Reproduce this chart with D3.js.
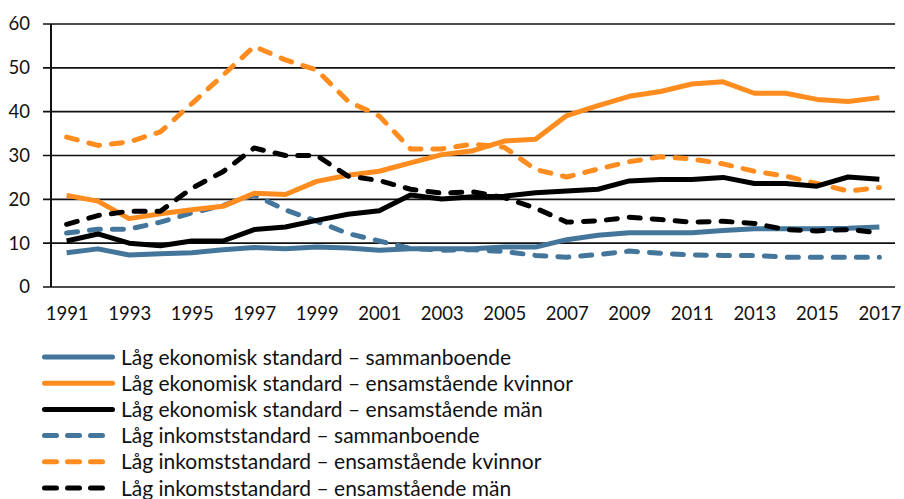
<!DOCTYPE html>
<html>
<head>
<meta charset="utf-8">
<script src="https://cdn.jsdelivr.net/npm/d3@7"></script>
<style>
  body { margin: 0; background: #fff; }
  svg { display: block; font-family: Lato, "Open Sans", sans-serif; }
</style>
</head>
<body>
<div id="chart"></div>
<script>
var years = d3.range(1991, 2018);
var tickYears = [1991, 1993, 1995, 1997, 1999, 2001, 2003, 2005, 2007, 2009, 2011, 2013, 2015, 2017];
var yTicks = [0, 10, 20, 30, 40, 50, 60];

// Låg ekonomisk standard
var ekSammanboende = [7.8, 8.7, 7.3, 7.6, 7.8, 8.5, 9.0, 8.7, 9.1, 8.9, 8.4, 8.7, 8.7, 8.7, 9.1, 9.1, 10.8, 11.8, 12.4, 12.4, 12.4, 12.9, 13.3, 13.3, 13.3, 13.4, 13.7];
var ekKvinnor = [20.9, 19.6, 15.6, 16.7, 17.6, 18.4, 21.4, 21.1, 24.1, 25.5, 26.4, 28.3, 30.2, 31.1, 33.3, 33.7, 39.1, 41.4, 43.5, 44.6, 46.3, 46.8, 44.2, 44.2, 42.8, 42.3, 43.2];
var ekMan = [10.5, 12.1, 10.0, 9.4, 10.5, 10.5, 13.1, 13.7, 15.2, 16.6, 17.4, 21.0, 20.1, 20.6, 20.7, 21.5, 21.9, 22.3, 24.2, 24.5, 24.5, 25.0, 23.6, 23.6, 23.0, 25.1, 24.6];
// Låg inkomststandard
var inkSammanboende = [12.3, 13.2, 13.2, 14.8, 16.9, 18.6, 21.0, 17.6, 15.0, 12.2, 10.5, 8.8, 8.4, 8.5, 8.1, 7.2, 6.8, 7.4, 8.2, 7.7, 7.3, 7.2, 7.2, 6.8, 6.8, 6.8, 6.8];
var inkKvinnor = [34.2, 32.3, 33.1, 35.4, 41.8, 48.3, 54.9, 51.8, 49.5, 42.4, 39.0, 31.5, 31.5, 32.6, 31.9, 26.8, 25.1, 26.9, 28.6, 29.7, 29.2, 28.1, 26.4, 25.3, 23.6, 21.9, 22.7];
var inkMan = [14.3, 16.3, 17.3, 17.3, 22.5, 26.3, 31.7, 30.0, 30.0, 25.3, 24.3, 22.3, 21.4, 21.7, 20.4, 18.0, 14.8, 15.1, 15.9, 15.4, 14.8, 15.0, 14.5, 13.1, 12.8, 13.1, 12.4];

var seriesNames = [
  "Låg ekonomisk standard – sammanboende",
  "Låg ekonomisk standard – ensamstående kvinnor",
  "Låg ekonomisk standard – ensamstående män",
  "Låg inkomststandard – sammanboende",
  "Låg inkomststandard – ensamstående kvinnor",
  "Låg inkomststandard – ensamstående män"
];
var seriesValues = [ekSammanboende, ekKvinnor, ekMan, inkSammanboende, inkKvinnor, inkMan];

var blue = "#44759a", orange = "#ff8c1f", black = "#000000";
var colors = [blue, orange, black, blue, orange, black];
var dashed = [false, false, false, true, true, true];

var margin = {top: 24, right: 9, bottom: 212, left: 51},
    width = 904 - margin.left - margin.right,
    height = 499 - margin.top - margin.bottom;

var x = d3.scalePoint()
    .domain(years)
    .range([0, width])
    .padding(0.5);
var y = d3.scaleLinear()
    .domain([0, 60])
    .range([height, 0]);

var svg = d3.select("#chart").append("svg")
    .attr("width", 904)
    .attr("height", 499);

var g = svg.append("g")
    .attr("transform", "translate(" + margin.left + "," + margin.top + ")");

// gridlines
g.selectAll(".grid")
    .data(yTicks)
  .enter().append("line")
    .attr("class", "grid")
    .attr("x1", -8)
    .attr("x2", width)
    .attr("y1", function(d) { return y(d); })
    .attr("y2", function(d) { return y(d); })
    .attr("stroke", "#111")
    .attr("stroke-width", 1.6);

// y axis
var yAxis = g.append("g")
    .call(d3.axisLeft(y).tickValues(yTicks).tickSize(0).tickPadding(21));
yAxis.select(".domain").remove();
yAxis.selectAll("text")
    .style("font-size", "18.5px")
    .style("font-family", "Lato, sans-serif")
    .attr("fill", "#111");

g.append("line")
    .attr("x1", 0).attr("x2", 0)
    .attr("y1", y(0)).attr("y2", y(60))
    .attr("stroke", "#111")
    .attr("stroke-width", 2);

// x axis
var xAxis = g.append("g")
    .attr("transform", "translate(0," + height + ")")
    .call(d3.axisBottom(x).tickValues(tickYears).tickSize(0).tickPadding(20));
xAxis.select(".domain").remove();
xAxis.selectAll("text")
    .style("font-size", "18.5px")
    .style("font-family", "Lato, sans-serif")
    .attr("fill", "#111");

var line = d3.line()
    .x(function(d, i) { return x(years[i]); })
    .y(function(d) { return y(d); });

// draw solid lines under dashed, in same order as original
var order = [0, 3, 1, 4, 2, 5];
order.forEach(function(k) {
  g.append("path")
      .datum(seriesValues[k])
      .attr("fill", "none")
      .attr("stroke", colors[k])
      .attr("stroke-width", 5)
      .attr("stroke-linejoin", "round")
      .attr("stroke-linecap", dashed[k] ? "round" : "butt")
      .attr("stroke-dasharray", dashed[k] ? "11,12" : null)
      .attr("d", line);
});

// legend
var legend = svg.selectAll(".legend")
    .data(seriesNames)
  .enter().append("g")
    .attr("class", "legend")
    .attr("transform", function(d, i) { return "translate(0," + (357 + i * 26.2) + ")"; });

legend.append("line")
    .attr("x1", 44.5)
    .attr("x2", function(d, i) { return dashed[i] ? 104 : 112.5; })
    .attr("y1", 0).attr("y2", 0)
    .attr("stroke", function(d, i) { return colors[i]; })
    .attr("stroke-width", 5)
    .attr("stroke-linecap", "round")
    .attr("stroke-dasharray", function(d, i) { return dashed[i] ? "12,11" : null; });

legend.append("text")
    .attr("x", 121)
    .attr("y", 0)
    .attr("dy", "0.36em")
    .style("font-size", "21px")
    .attr("fill", "#111")
    .text(function(d) { return d; });
</script>
</body>
</html>
